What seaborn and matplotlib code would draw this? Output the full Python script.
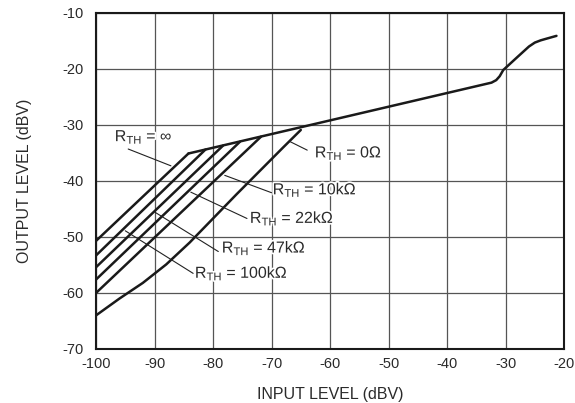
import pandas as pd
import matplotlib
matplotlib.use('Agg')
import matplotlib.pyplot as plt
import matplotlib.patheffects as pe
import seaborn as sns

# Общий участок характеристики (ограничение)
common_x = [-84.2, -32.4, -31.6, -31.0, -30.4, -28.0, -26.0, -25.0, -24.0, -23.0, -21.3]
common_y = [-35.1, -22.45, -22.0, -21.3, -20.2, -17.9, -16.0, -15.3, -14.9, -14.6, -14.1]

# Линейные участки для разных R_TH
curve_names = ['inf', '100k', '47k', '22k', '10k', '0']
curve_x = {
    'inf': [-100, -84.2],
    '100k': [-100, -81.3],
    '47k': [-100, -78.3],
    '22k': [-100, -75.4],
    '10k': [-100, -71.8],
    '0': [-100, -96, -92, -88, -84, -80, -76, -72, -68, -65],
}
curve_y = {
    'inf': [-50.7, -35.1],
    '100k': [-53.3, -34.4],
    '47k': [-55.4, -33.7],
    '22k': [-57.6, -33.0],
    '10k': [-60.0, -32.1],
    '0': [-64.0, -61.0, -58.2, -54.9, -51.0, -46.7, -42.4, -38.2, -34.0, -30.9],
}

# Подписи и выноски
label_texts = [r'$\mathregular{R_{TH}}$ = ∞', r'$\mathregular{R_{TH}}$ = 0Ω',
               r'$\mathregular{R_{TH}}$ = 10kΩ', r'$\mathregular{R_{TH}}$ = 22kΩ',
               r'$\mathregular{R_{TH}}$ = 47kΩ', r'$\mathregular{R_{TH}}$ = 100kΩ']
label_pos = [(-96.8, -32.9), (-62.6, -35.8), (-69.8, -42.4),
             (-73.7, -47.5), (-78.5, -52.8), (-83.1, -57.3)]
leaders = [((-94.5, -34.3), (-87.2, -37.3)), ((-66.8, -33.0), (-63.9, -34.5)),
           ((-78.0, -39.0), (-70.0, -42.1)), ((-83.8, -42.0), (-74.2, -46.7)),
           ((-89.9, -45.6), (-79.1, -52.6)), ((-95.0, -48.9), (-83.4, -56.5))]

x_ticks = [-100, -90, -80, -70, -60, -50, -40, -30, -20]
y_ticks = [-70, -60, -50, -40, -30, -20, -10]

sns.set_theme(style='white')
plt.rcParams['font.family'] = ['Liberation Sans', 'DejaVu Sans']
plt.rcParams['mathtext.fontset'] = 'custom'
plt.rcParams['mathtext.rm'] = 'Liberation Sans'
plt.rcParams['axes.unicode_minus'] = False

rows = []
for name in curve_names:
    for x, y in zip(curve_x[name], curve_y[name]):
        rows.append({'curve': name, 'x': x, 'y': y})
for x, y in zip(common_x, common_y):
    rows.append({'curve': 'common', 'x': x, 'y': y})
df = pd.DataFrame(rows)

fig = plt.figure(figsize=(5.75, 4.03), dpi=100)
ax = fig.add_axes([0.167, 0.134, 0.814, 0.834])

ax.grid(True, color='#555555', linewidth=0.9)
ax.set_axisbelow(True)

sns.lineplot(data=df, x='x', y='y', units='curve', estimator=None, sort=False,
             color='#1a1a1a', linewidth=1.8, ax=ax)

for (p0, p1) in leaders:
    ax.plot([p0[0], p1[0]], [p0[1], p1[1]], color='#222222', linewidth=0.8)
for txt, (tx, ty) in zip(label_texts, label_pos):
    ax.text(tx, ty, txt, ha='left', va='baseline', fontsize=11.5, color='#2a2a2a',
            path_effects=[pe.withStroke(linewidth=2.5, foreground='white')])

ax.set_xlim(-100, -20)
ax.set_ylim(-70, -10)
ax.set_xticks(x_ticks)
ax.set_yticks(y_ticks)
ax.tick_params(axis='both', length=0, labelsize=10.5, colors='#2a2a2a')
ax.tick_params(axis='x', pad=6)
ax.tick_params(axis='y', pad=9)
for s in ax.spines.values():
    s.set_color('#1a1a1a')
    s.set_linewidth(1.5)

ax.set_xlabel('INPUT LEVEL (dBV)', fontsize=11.5, color='#2a2a2a', labelpad=11)
ax.set_ylabel('OUTPUT LEVEL (dBV)', fontsize=11.5, color='#2a2a2a', labelpad=22)

fig.savefig('out.png', dpi=100)
